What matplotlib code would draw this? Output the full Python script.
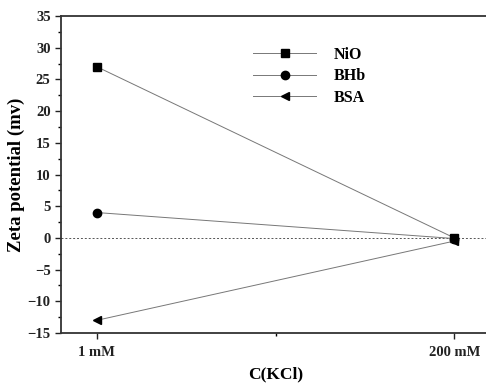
import matplotlib
matplotlib.use("Agg")
import matplotlib.pyplot as plt
from matplotlib.ticker import MultipleLocator, FixedLocator

categories = ["1 mM", "200 mM"]
nio = [27, 0]
bhb = [4, -0.1]
bsa = [-13, -0.5]

plt.rcParams['font.family'] = ['Liberation Serif', 'DejaVu Serif']
plt.rcParams['font.weight'] = 'bold'

fig = plt.figure(figsize=(4.86, 3.83), dpi=100)
ax = fig.add_axes([61/486, 50/383, (490-61)/486, (333-16)/383])

x = list(range(len(categories)))
ax.plot(x, nio, color='#777777', lw=0.7, marker='s', ms=6, mfc='black', mec='black', label='NiO')
ax.plot(x, bhb, color='#777777', lw=0.7, marker='o', ms=6, mfc='black', mec='black', label='BHb')
ax.plot(x, bsa, color='#777777', lw=0.7, marker='<', ms=6, mfc='black', mec='black', label='BSA')
ax.axhline(0, color='#555555', lw=0.7, ls=(0, (2, 2)), zorder=0)

ax.set_xlim(-0.1, 1.1)
ax.set_ylim(-15, 35)
ax.set_xticks(x)
ax.set_xticklabels(categories)
ax.xaxis.set_minor_locator(FixedLocator([0.5]))
ax.yaxis.set_major_locator(MultipleLocator(5))
ax.yaxis.set_minor_locator(MultipleLocator(2.5))
ax.tick_params(axis='both', which='major', direction='out', length=4, width=1, labelsize=10.5, colors='#222222')
ax.tick_params(axis='both', which='minor', direction='out', length=2.5, width=1)
ax.tick_params(axis='x', pad=5)
for lbl in ax.get_xticklabels() + ax.get_yticklabels():
    lbl.set_fontweight('bold')
ax.spines['right'].set_visible(False)
for s in ['left', 'bottom', 'top']:
    ax.spines[s].set_linewidth(1.3)
    ax.spines[s].set_color('#333333')

ax.set_xlabel('C(KCl)', fontsize=12.5, fontweight='bold', labelpad=6)
ax.set_ylabel('Zeta potential (mv)', fontsize=13.5, fontweight='bold', labelpad=1.5)

leg = ax.legend(loc='upper left', bbox_to_anchor=(0.415, 0.948), frameon=False,
                handlelength=3.9, handletextpad=1.15, labelspacing=0.35,
                prop={'weight': 'bold', 'size': 11.5})

fig.savefig('out.png', dpi=100)
